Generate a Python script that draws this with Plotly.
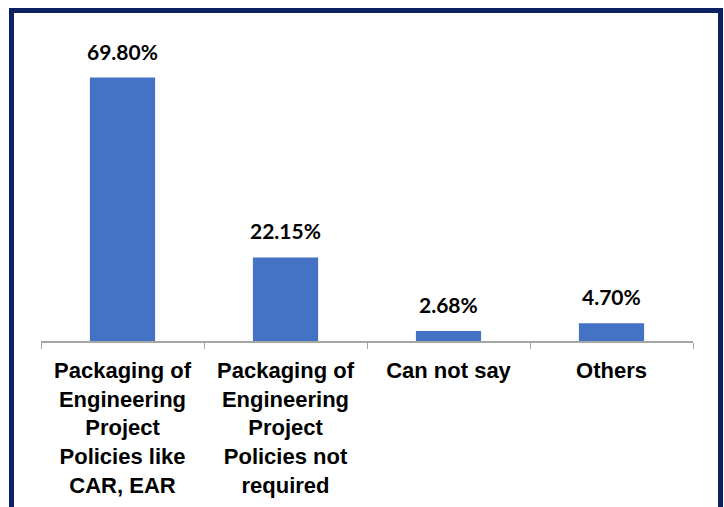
import plotly.graph_objects as go

categories = [
    "Packaging of<br>Engineering<br>Project<br>Policies like<br>CAR, EAR",
    "Packaging of<br>Engineering<br>Project<br>Policies not<br>required",
    "Can not say",
    "Others",
]
values = [69.80, 22.15, 2.68, 4.70]
value_labels = ["69.80%", "22.15%", "2.68%", "4.70%"]

W, H = 724, 507
L, R, T, B = 41, 31, 39, 166
pw, ph = W - L - R, H - T - B

fig = go.Figure()
fig.add_trace(go.Bar(
    x=categories, y=values, marker=dict(color="#4472C4", line=dict(width=0)),
    width=0.4, hoverinfo="skip",
))

for c, v, t in zip(categories, values, value_labels):
    fig.add_annotation(
        x=c, y=v, text=t, showarrow=False, yanchor="bottom", yshift=12,
        font=dict(family="Lato", size=21, color="#000000", weight="bold"),
    )

def px_x(p):
    return (p - L) / pw

def px_y(p):
    return (H - B - p) / ph

fig.add_shape(
    type="rect", xref="paper", yref="paper",
    x0=px_x(11.5), x1=px_x(720.5), y0=px_y(520), y1=px_y(10.5),
    line=dict(color="#0B2161", width=5), fillcolor="rgba(0,0,0,0)",
)

fig.update_layout(
    width=W, height=H,
    margin=dict(l=L, r=R, t=T, b=B, pad=0, autoexpand=False),
    paper_bgcolor="white", plot_bgcolor="white",
    showlegend=False,
    xaxis=dict(
        showline=True, linecolor="#A6A6A6", linewidth=1.5,
        ticks="outside", tickson="boundaries", ticklen=6, tickcolor="#A6A6A6",
        tickfont=dict(family="Liberation Sans, Arial", size=22, color="#000000", weight="bold"),
        ticklabelstandoff=9, automargin=False,
        tickangle=0, showgrid=False,
    ),
    yaxis=dict(range=[0, 80], visible=False, showgrid=False, automargin=False),
    font=dict(family="Liberation Sans, Arial"),
)

fig.write_html("out.html")
